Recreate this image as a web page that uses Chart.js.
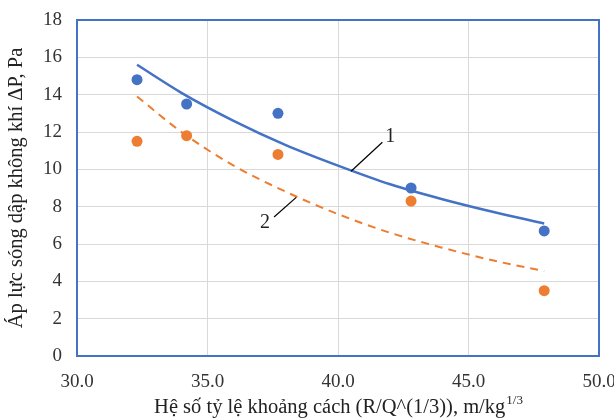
<!DOCTYPE html>
<html>
<head>
<meta charset="utf-8">
<script src="https://cdn.jsdelivr.net/npm/chart.js@4"></script>
<style>
  body { margin: 0; background: #fff; }
  #wrap { width: 614px; height: 418px; }
</style>
</head>
<body>
<div id="wrap"><canvas id="myChart" width="614" height="418"></canvas></div>
<script>
// measured points
var xVals = [32.3, 34.2, 37.7, 42.8, 47.9];
var series1 = [14.8, 13.5, 13.0, 9.0, 6.7];
var series2 = [11.5, 11.8, 10.8, 8.3, 3.5];

// trend curves
var trendX = [32.3, 34, 36, 38, 40, 42, 44, 46, 47.9];
var trend1 = [15.6, 14.1, 12.6, 11.3, 10.2, 9.2, 8.4, 7.7, 7.1];
var trend2 = [13.9, 12.0, 10.2, 8.8, 7.6, 6.6, 5.8, 5.1, 4.55];

var xTicks = [30, 35, 40, 45, 50];
var yTicks = [0, 2, 4, 6, 8, 10, 12, 14, 16, 18];

var xTitle = 'Hệ số tỷ lệ khoảng cách (R/Q^(1/3)), m/kg';
var xTitleSup = '1/3';
var yTitle = 'Áp lực sóng dập không khí ΔP, Pa';

// curve labels: leader line from (x0,y0) to (x1,y1), text at (tx,ty), all in data units
var curveLabels = [
  { text: '1', x0: 40.5, y0: 9.9, x1: 41.7, y1: 11.45, tx: 42.0, ty: 11.75 },
  { text: '2', x0: 38.4, y0: 8.5, x1: 37.55, y1: 7.45, tx: 37.2, ty: 7.15 }
];

var serif = '"Liberation Serif", "Times New Roman", serif';
var blue = '#4472C4';
var orange = '#ED7D31';

function toPts (xs, ys) {
  var out = [];
  xs.forEach(function (x, i) { out.push({ x: x, y: ys[i] }); });
  return out;
}

var extras = {
  id: 'extras',
  beforeDraw: function (chart) {
    var ctx = chart.ctx;
    ctx.save();
    ctx.fillStyle = '#fff';
    ctx.fillRect(0, 0, chart.width, chart.height);
    ctx.restore();
  },
  afterDatasetsDraw: function (chart) {
    var ctx = chart.ctx, a = chart.chartArea;
    var sx = chart.scales.x, sy = chart.scales.y;
    ctx.save();
    ctx.strokeStyle = blue;
    ctx.lineWidth = 2;
    ctx.strokeRect(a.left, a.top, a.right - a.left, a.bottom - a.top);

    ctx.strokeStyle = '#000';
    ctx.lineWidth = 1.2;
    ctx.fillStyle = '#222';
    ctx.font = '20px ' + serif;
    ctx.textAlign = 'center';
    ctx.textBaseline = 'middle';
    curveLabels.forEach(function (c) {
      ctx.beginPath();
      ctx.moveTo(sx.getPixelForValue(c.x0), sy.getPixelForValue(c.y0));
      ctx.lineTo(sx.getPixelForValue(c.x1), sy.getPixelForValue(c.y1));
      ctx.stroke();
      ctx.fillText(c.text, sx.getPixelForValue(c.tx), sy.getPixelForValue(c.ty));
    });
    ctx.restore();
  },
  afterDraw: function (chart) {
    var ctx = chart.ctx, a = chart.chartArea;
    ctx.save();
    ctx.fillStyle = '#222';
    // x title with superscript
    ctx.font = '20.5px ' + serif;
    var w1 = ctx.measureText(xTitle).width;
    ctx.font = '13px ' + serif;
    var w2 = ctx.measureText(xTitleSup).width;
    var cx = (a.left + a.right) / 2;
    var start = cx - (w1 + w2) / 2;
    ctx.textAlign = 'left';
    ctx.textBaseline = 'alphabetic';
    ctx.font = '20.5px ' + serif;
    ctx.fillText(xTitle, start, 413);
    ctx.font = '13px ' + serif;
    ctx.fillText(xTitleSup, start + w1 + 1, 404);
    // y title
    ctx.translate(17, (a.top + a.bottom) / 2);
    ctx.rotate(-Math.PI / 2);
    ctx.textAlign = 'center';
    ctx.textBaseline = 'middle';
    ctx.font = '20.5px ' + serif;
    ctx.fillText(yTitle, 0, 0);
    ctx.restore();
  }
};

var ctx = document.getElementById('myChart').getContext('2d');
var myChart = new Chart(ctx, {
  type: 'scatter',
  data: {
    datasets: [
      { label: 'ΔP 1', data: toPts(xVals, series1), backgroundColor: blue, borderColor: blue,
        pointRadius: 5.5, pointBorderWidth: 0, order: 0 },
      { label: 'ΔP 2', data: toPts(xVals, series2), backgroundColor: orange, borderColor: orange,
        pointRadius: 5.5, pointBorderWidth: 0, order: 0 },
      { label: 'trend 1', data: toPts(trendX, trend1), showLine: true, borderColor: blue,
        borderWidth: 2.5, pointRadius: 0, cubicInterpolationMode: 'monotone', order: 1 },
      { label: 'trend 2', data: toPts(trendX, trend2), showLine: true, borderColor: orange,
        borderWidth: 2, borderDash: [8, 6], pointRadius: 0, cubicInterpolationMode: 'monotone', order: 1 }
    ]
  },
  options: {
    responsive: false,
    animation: false,
    layout: { padding: { top: 20, right: 15, left: 0, bottom: 0 } },
    plugins: { legend: { display: false }, tooltip: { enabled: false } },
    scales: {
      x: {
        type: 'linear', min: 30, max: 50,
        afterBuildTicks: function (s) { s.ticks = xTicks.map(function (v) { return { value: v }; }); },
        afterFit: function (s) { s.height = 62; s.paddingLeft = 0; s.paddingRight = 0; },
        grid: { color: '#D9D9D9', lineWidth: 1, drawTicks: false },
        border: { display: false },
        ticks: { padding: 15, color: '#333', font: { family: serif, size: 19 },
          callback: function (v) { return Number(v).toFixed(1); } }
      },
      y: {
        type: 'linear', min: 0, max: 18,
        afterBuildTicks: function (s) { s.ticks = yTicks.map(function (v) { return { value: v }; }); },
        afterFit: function (s) { s.width = 77; s.paddingTop = 0; s.paddingBottom = 0; },
        grid: { color: '#D9D9D9', lineWidth: 1, drawTicks: false },
        border: { display: false },
        ticks: { padding: 15, color: '#333', font: { family: serif, size: 19 } }
      }
    }
  },
  plugins: [extras]
});
</script>
</body>
</html>
